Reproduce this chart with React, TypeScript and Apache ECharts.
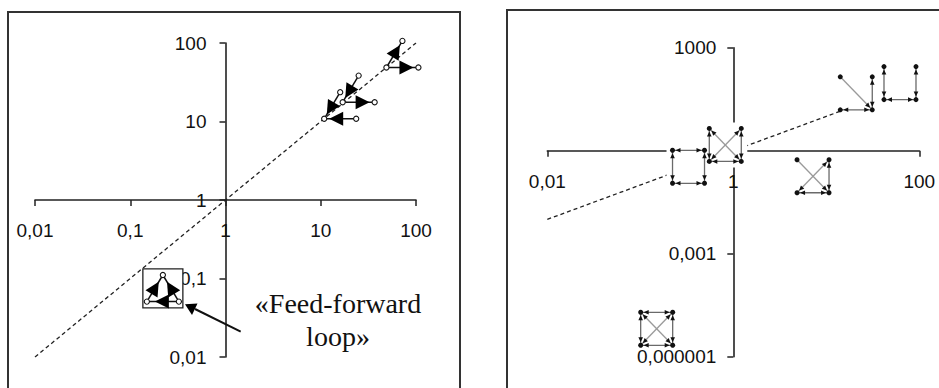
import React, { useEffect, useRef } from "react";
import * as echarts from "echarts";

// ---------- DATA ----------
// Left panel: three-node motifs (feed-forward loop variants), positions in data units
const leftMotifX = [72, 25, 16, 0.22];
const leftMotifY = [72, 26, 16, 0.075];
const leftMotifKind = [0, 1, 2, 3];

// Right panel: four-node motifs, positions in data units
const rightMotifX = [0.33, 0.82, 7.2, 21, 62, 0.15];
const rightMotifY = [0.34, 1.47, 0.18, 47, 93, 0.0000065];
const rightMotifKind = [0, 1, 2, 3, 4, 5];

// Reference lines y = x
const leftDiagX = [0.01, 100];
const leftDiagY = [0.01, 100];
const rightDiagX = [0.01, 14];
const rightDiagY = [0.01, 14];

// Axis ranges (decimal exponents) and tick labels
const leftXExp = [-2, -1, 0, 1, 2];
const leftXLabels = ["0,01", "0,1", "1", "10", "100"];
const leftYExp = [-2, -1, 0, 1, 2];
const leftYLabels = ["0,01", "0,1", "1", "10", "100"];
const rightXExp = [-2, 0, 2];
const rightXLabels = ["0,01", "1", "100"];
const rightYExp = [-6, -3, 0, 3];
const rightYLabels = ["0,000001", "0,001", "", "1000"];

const annotationText = "«Feed-forward\nloop»";

// ---------- LAYOUT ----------
const LEFT_GRID = { left: 35, top: 43, width: 381, height: 314 };
const RIGHT_GRID = { left: 547.3, top: 47.7, width: 372, height: 309 };

// ---------- MOTIF TEMPLATES (shape / style only) ----------
const TRI_NODES = [
  [0, -13.3],
  [-16, 13.3],
  [16, 13.3],
];
const TRI_KINDS: { edges: number[][]; gap: number; box?: boolean }[] = [
  { edges: [[1, 0], [1, 2]], gap: 5 },
  { edges: [[0, 1], [1, 2]], gap: 5 },
  { edges: [[0, 1], [2, 1]], gap: 5 },
  { edges: [[1, 0], [2, 0], [2, 1]], gap: 8, box: true },
];

const QUAD_NODES = [
  [-16, -16.5],
  [16, -16.5],
  [-16, 16.5],
  [16, 16.5],
];
const QUAD_KINDS: { edges: number[][]; bg?: boolean }[] = [
  { edges: [[0, 1, 1], [2, 3, 1], [0, 2, 1], [1, 3, 1]], bg: true },
  { edges: [[0, 2, 1], [1, 3, 1], [2, 3, 1], [0, 3, 1], [1, 2, 1]], bg: true },
  { edges: [[0, 3, 0], [1, 2, 1], [1, 3, 1], [2, 3, 1]] },
  { edges: [[0, 3, 0], [1, 3, 1], [2, 3, 1]] },
  { edges: [[0, 2, 1], [1, 3, 1], [2, 3, 1]] },
  { edges: [[0, 1, 1], [2, 3, 1], [0, 2, 1], [1, 3, 1], [0, 3, 1], [1, 2, 1]] },
];

const log10 = (v: number) => Math.log10(v);

function labelFor(exps: number[], labels: string[]) {
  return (v: number) => {
    const i = exps.findIndex((e) => Math.abs(e - v) < 1e-6);
    return i >= 0 ? labels[i] : "";
  };
}

function arrowHead(
  from: number[],
  to: number[],
  gap: number,
  len: number,
  hw: number,
  fill: string
) {
  const dx = to[0] - from[0];
  const dy = to[1] - from[1];
  const d = Math.sqrt(dx * dx + dy * dy) || 1;
  const ux = dx / d;
  const uy = dy / d;
  const tx = to[0] - ux * gap;
  const ty = to[1] - uy * gap;
  const bx = tx - ux * len;
  const by = ty - uy * len;
  const nx = -uy;
  const ny = ux;
  return {
    type: "polygon",
    shape: {
      points: [
        [tx, ty],
        [bx + nx * hw, by + ny * hw],
        [bx - nx * hw, by - ny * hw],
      ],
    },
    style: { fill },
  };
}

const renderTriMotif = (params: any, api: any) => {
  const c = api.coord([api.value(0), api.value(1)]);
  const tpl = TRI_KINDS[api.value(2)];
  const pts = TRI_NODES.map(([dx, dy]) => [c[0] + dx, c[1] + dy]);
  const children: any[] = [];
  if (tpl.box) {
    children.push({
      type: "rect",
      shape: { x: c[0] - 20, y: c[1] - 19.5, width: 40, height: 39 },
      style: { fill: "#fff", stroke: "#222", lineWidth: 1.3 },
    });
  }
  tpl.edges.forEach(([a, b]) => {
    children.push({
      type: "line",
      shape: { x1: pts[a][0], y1: pts[a][1], x2: pts[b][0], y2: pts[b][1] },
      style: { stroke: "#111", lineWidth: 1.5 },
    });
  });
  tpl.edges.forEach(([a, b]) => {
    children.push(arrowHead(pts[a], pts[b], tpl.gap, 14, 7, "#000"));
  });
  pts.forEach((p) => {
    children.push({
      type: "circle",
      shape: { cx: p[0], cy: p[1], r: 2.6 },
      style: { fill: "#fff", stroke: "#111", lineWidth: 1.1 },
    });
  });
  return { type: "group", children };
};

const renderQuadBg = (params: any, api: any) => {
  const tpl = QUAD_KINDS[api.value(2)];
  if (!tpl.bg) return { type: "group", children: [] };
  const c = api.coord([api.value(0), api.value(1)]);
  return {
    type: "rect",
    shape: { x: c[0] - 22, y: c[1] - 22.5, width: 44, height: 45 },
    style: { fill: "#fff" },
  };
};

const renderQuadMotif = (params: any, api: any) => {
  const c = api.coord([api.value(0), api.value(1)]);
  const tpl = QUAD_KINDS[api.value(2)];
  const pts = QUAD_NODES.map(([dx, dy]) => [c[0] + dx, c[1] + dy]);
  const children: any[] = [];
  tpl.edges.forEach(([a, b]) => {
    const diag = pts[a][0] !== pts[b][0] && pts[a][1] !== pts[b][1];
    children.push({
      type: "line",
      shape: { x1: pts[a][0], y1: pts[a][1], x2: pts[b][0], y2: pts[b][1] },
      style: { stroke: diag ? "#9a9a9a" : "#6a6a6a", lineWidth: 1.3 },
    });
  });
  tpl.edges.forEach(([a, b, both]) => {
    children.push(arrowHead(pts[a], pts[b], 3, 5, 2.3, "#111"));
    if (both) children.push(arrowHead(pts[b], pts[a], 3, 5, 2.3, "#111"));
  });
  pts.forEach((p) => {
    children.push({
      type: "circle",
      shape: { cx: p[0], cy: p[1], r: 2.5 },
      style: { fill: "#111" },
    });
  });
  return { type: "group", children };
};

const axisLineStyle = { color: "#222", width: 1.6 };
const tickStyle = { show: true, length: 6, lineStyle: { color: "#222", width: 1.5 } };
const labelFont = { fontSize: 19, color: "#111", fontFamily: "Liberation Sans, Arial, sans-serif" };

// axis crossing at value 1 (exponent 0): shift the axis from the grid edge
const crossOffset = (size: number, min: number, max: number) => -(size * (0 - min)) / (max - min);

export default function App() {
  const ref = useRef<HTMLDivElement>(null);

  useEffect(() => {
    if (!ref.current) return;
    const chart = echarts.init(ref.current, null, { renderer: "svg" });

    const leftMotifData = leftMotifX.map((x, i) => [log10(x), log10(leftMotifY[i]), leftMotifKind[i]]);
    const rightMotifData = rightMotifX.map((x, i) => [log10(x), log10(rightMotifY[i]), rightMotifKind[i]]);

    const lxMin = leftXExp[0], lxMax = leftXExp[leftXExp.length - 1];
    const lyMin = leftYExp[0], lyMax = leftYExp[leftYExp.length - 1];
    const rxMin = rightXExp[0], rxMax = rightXExp[rightXExp.length - 1];
    const ryMin = rightYExp[0], ryMax = rightYExp[rightYExp.length - 1];

    const option: any = {
      animation: false,
      backgroundColor: "#fff",
      grid: [
        { ...LEFT_GRID, outerBoundsMode: "none", containLabel: false },
        { ...RIGHT_GRID, outerBoundsMode: "none", containLabel: false },
      ],
      xAxis: [
        {
          type: "value",
          gridIndex: 0,
          position: "bottom",
          min: lxMin,
          max: lxMax,
          interval: 1,
          offset: crossOffset(LEFT_GRID.height, lyMin, lyMax),
          axisLine: { show: true, onZero: false, lineStyle: axisLineStyle },
          axisTick: tickStyle,
          axisLabel: { ...labelFont, margin: 21, showMinLabel: true, showMaxLabel: true, formatter: labelFor(leftXExp, leftXLabels) },
          splitLine: { show: false },
        },
        {
          type: "value",
          gridIndex: 1,
          position: "bottom",
          min: rxMin,
          max: rxMax,
          interval: 2,
          offset: crossOffset(RIGHT_GRID.height, ryMin, ryMax),
          axisLine: { show: true, onZero: false, lineStyle: axisLineStyle },
          axisTick: tickStyle,
          axisLabel: { ...labelFont, margin: 21, showMinLabel: true, showMaxLabel: true, formatter: labelFor(rightXExp, rightXLabels) },
          splitLine: { show: false },
        },
      ],
      yAxis: [
        {
          type: "value",
          gridIndex: 0,
          position: "left",
          min: lyMin,
          max: lyMax,
          interval: 1,
          offset: crossOffset(LEFT_GRID.width, lxMin, lxMax),
          axisLine: { show: true, onZero: false, lineStyle: axisLineStyle },
          axisTick: tickStyle,
          axisLabel: { ...labelFont, margin: 19, showMinLabel: true, showMaxLabel: true, formatter: labelFor(leftYExp, leftYLabels) },
          splitLine: { show: false },
        },
        {
          type: "value",
          gridIndex: 1,
          position: "left",
          min: ryMin,
          max: ryMax,
          interval: 3,
          offset: crossOffset(RIGHT_GRID.width, rxMin, rxMax),
          axisLine: { show: true, onZero: false, lineStyle: axisLineStyle },
          axisTick: tickStyle,
          axisLabel: { ...labelFont, margin: 17, showMinLabel: true, showMaxLabel: true, formatter: labelFor(rightYExp, rightYLabels) },
          splitLine: { show: false },
        },
      ],
      series: [
        {
          type: "line",
          xAxisIndex: 0,
          yAxisIndex: 0,
          data: leftDiagX.map((x, i) => [log10(x), log10(leftDiagY[i])]),
          symbol: "none",
          lineStyle: { color: "#222", width: 1.3, type: [4, 3] },
          silent: true,
          z: 3,
        },
        {
          type: "custom",
          xAxisIndex: 0,
          yAxisIndex: 0,
          data: leftMotifData,
          encode: { x: 0, y: 1 },
          renderItem: renderTriMotif,
          clip: false,
          silent: true,
          z: 4,
        },
        {
          type: "line",
          xAxisIndex: 1,
          yAxisIndex: 1,
          data: rightDiagX.map((x, i) => [log10(x), log10(rightDiagY[i])]),
          symbol: "none",
          lineStyle: { color: "#222", width: 1.3, type: [4, 3] },
          silent: true,
          z: 3,
        },
        {
          type: "custom",
          xAxisIndex: 1,
          yAxisIndex: 1,
          data: rightMotifData,
          encode: { x: 0, y: 1 },
          renderItem: renderQuadBg,
          clip: false,
          silent: true,
          z: 4,
        },
        {
          type: "custom",
          xAxisIndex: 1,
          yAxisIndex: 1,
          data: rightMotifData,
          encode: { x: 0, y: 1 },
          renderItem: renderQuadMotif,
          clip: false,
          silent: true,
          z: 5,
        },
      ],
      graphic: [
        {
          type: "rect",
          shape: { x: 8, y: 12, width: 452, height: 400 },
          style: { fill: "none", stroke: "#333", lineWidth: 2 },
          silent: true,
          z: 10,
        },
        {
          type: "rect",
          shape: { x: 507, y: 10, width: 450, height: 400 },
          style: { fill: "none", stroke: "#333", lineWidth: 2 },
          silent: true,
          z: 10,
        },
        {
          type: "line",
          shape: { x1: 240.7, y1: 331.7, x2: 195, y2: 309 },
          style: { stroke: "#111", lineWidth: 2 },
          silent: true,
          z: 10,
        },
        {
          type: "polygon",
          shape: { points: [[185, 304.3], [197.5, 303.5], [192, 315]] },
          style: { fill: "#000" },
          silent: true,
          z: 10,
        },
        {
          type: "text",
          x: 338,
          y: 320.3,
          style: {
            text: annotationText,
            font: '28px "Liberation Serif", "Times New Roman", serif',
            fill: "#111",
            align: "center",
            verticalAlign: "middle",
            lineHeight: 33,
          },
          silent: true,
          z: 10,
        },
      ],
    };

    chart.setOption(option);
    return () => chart.dispose();
  }, []);

  return (
    <div
      ref={ref}
      style={{ position: "fixed", left: 0, top: 0, width: 939, height: 388, background: "#fff" }}
    />
  );
}
